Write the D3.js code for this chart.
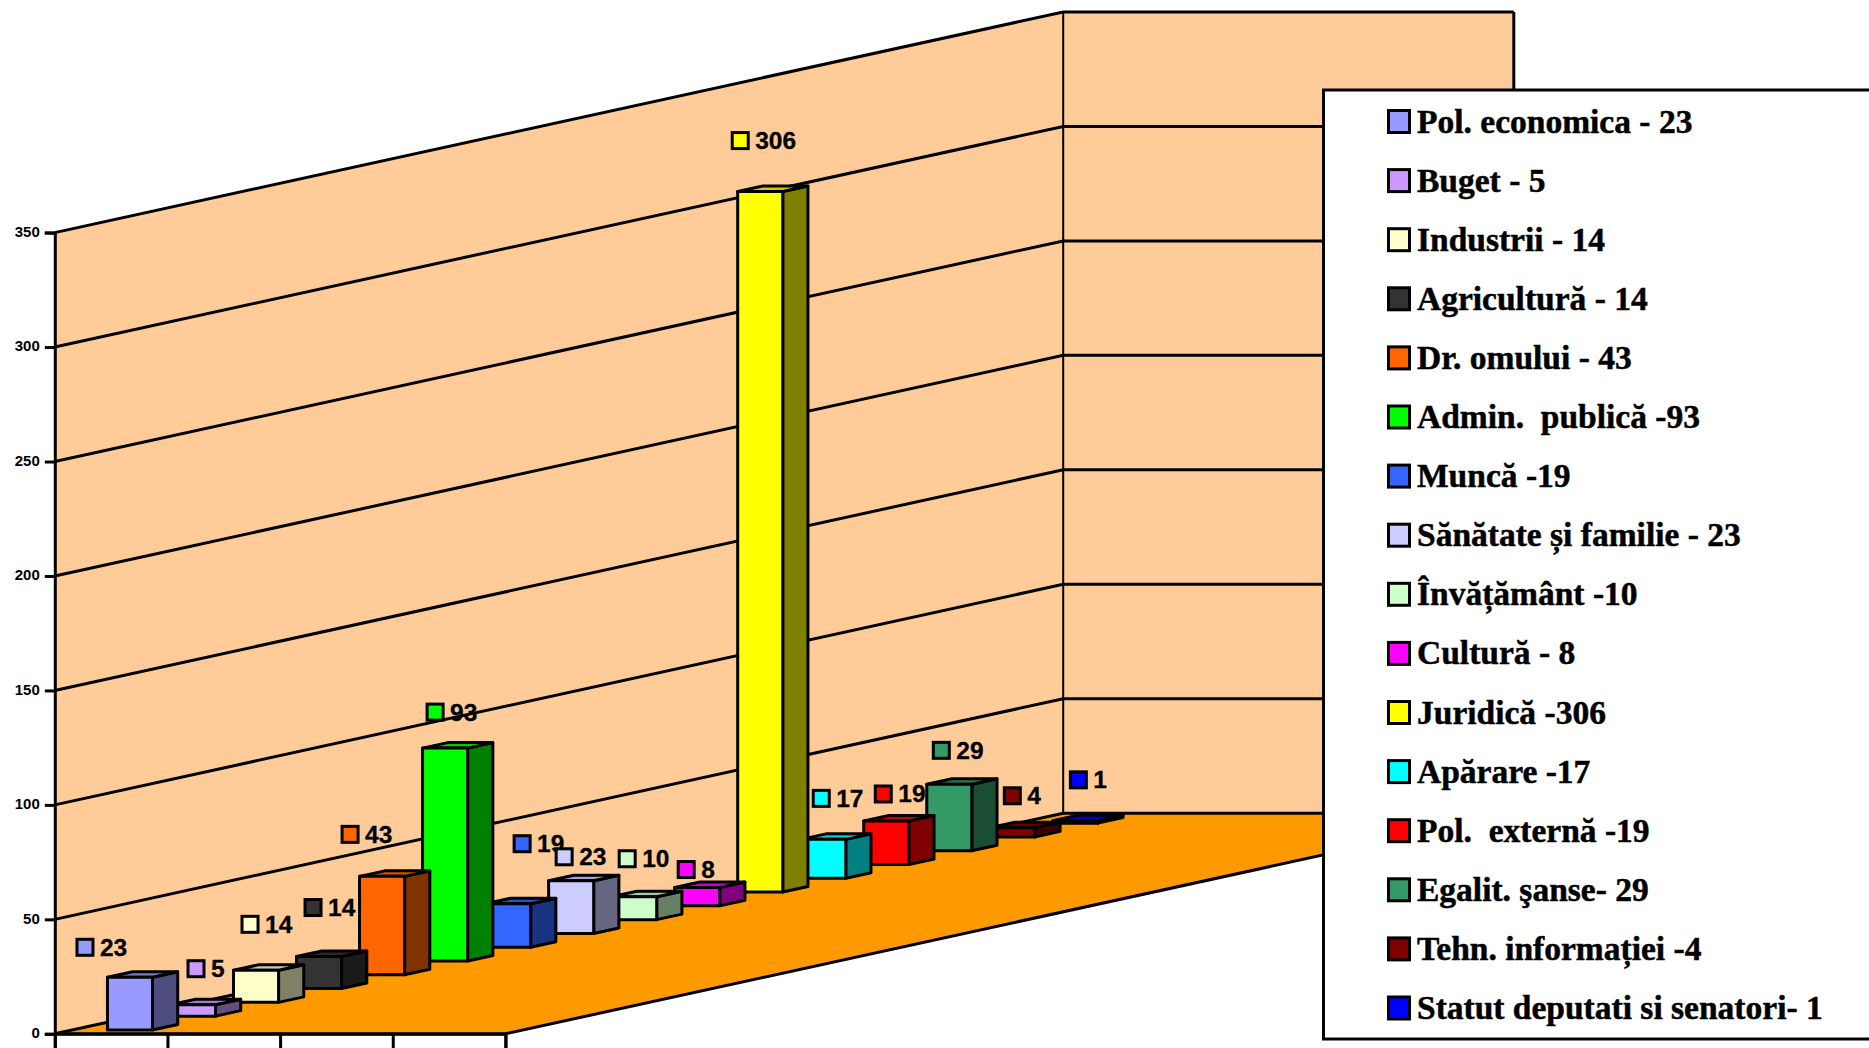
<!DOCTYPE html>
<html>
<head>
<meta charset="utf-8">
<script src="https://cdn.jsdelivr.net/npm/d3@7/dist/d3.min.js"></script>
<style>
html,body{margin:0;padding:0;background:#fff;overflow:hidden}
svg{display:block}
</style>
</head>
<body>
<svg id="chart" width="1869" height="1048"></svg>
<script>
const seriesNames = ["Pol. economica - 23","Buget - 5","Industrii - 14","Agricultură - 14","Dr. omului - 43","Admin.  publică -93","Muncă -19","Sănătate și familie - 23","Învățământ -10","Cultură - 8","Juridică -306","Apărare -17","Pol.  externă -19","Egalit. şanse- 29","Tehn. informației -4","Statut deputati si senatori- 1"];
const seriesValues = [23,5,14,14,43,93,19,23,10,8,306,17,19,29,4,1];
const seriesColors = ["#9999FF","#CC99FF","#FFFFCC","#333333","#FF6600","#00FF00","#3366FF","#CCCCFF","#CCFFCC","#FF00FF","#FFFF00","#00FFFF","#FF0000","#339966","#800000","#0000FF"];
const yTicks = [0,50,100,150,200,250,300,350];
const categorySlots = ["a","b","c","d"];
const labelNudges = [[-45,-30],[3,-36],[-6,-46],[-6,-49],[-32,-42],[-10,-36],[14,-60],[-7,-24],[-7,-38],[-11,-18],[-20,-51],[-2,-41],[-3,-27],[-8,-34],[0,-32],[3,-41]];

const svg = d3.select("#chart");
const X0 = 54.8, X1 = 505.4, Y0 = 1033.8, YTOP = 232.6, DEPTHX = 1008.4, DEPTHY = -220.6;

const y = d3.scaleLinear().domain([0,350]).range([Y0,YTOP]);
const xBand = d3.scaleBand().domain(categorySlots).range([X0,X1]).paddingInner(0.6).paddingOuter(0.3);
const xAxisScale = d3.scaleLinear().domain([0,4]).range([X0,X1]);
const dX = d3.scaleLinear().domain([0,seriesValues.length]).range([0,DEPTHX]);
const dY = d3.scaleLinear().domain([0,seriesValues.length]).range([0,DEPTHY]);

const pt = (px,depth,v)=>[px+dX(depth), y(v)+dY(depth)];
const poly = d3.line();
const N = seriesValues.length;
const LW = 3;
const walls = svg.append("g");

// back wall, side wall, floor
walls.append("path").attr("d",poly([pt(X0,0,0),pt(X0,0,350),pt(X0,N,350),pt(X0,N,0)])+"Z").attr("fill","#FFCC99");
walls.append("path").attr("d",poly([pt(X0,N,0),pt(X0,N,350),pt(X1,N,350),pt(X1,N,0)])+"Z").attr("fill","#FFCC99");
walls.append("path").attr("d",poly([pt(X0,0,0),pt(X1,0,0),pt(X1,N,0),pt(X0,N,0)])+"Z").attr("fill","#FF9900");

// gridlines
yTicks.forEach(t=>{
  walls.append("path").attr("d",poly([pt(X0,0,t),pt(X0,N,t),pt(X1,N,t)]))
    .attr("fill","none").attr("stroke","#000").attr("stroke-width",LW);
});
walls.append("path").attr("d",poly([pt(X0,N,0),pt(X0,N,350)])).attr("stroke","#000").attr("stroke-width",2).attr("fill","none");
walls.append("path").attr("d",poly([pt(X1,N,350),pt(X1,N,0)])).attr("stroke","#000").attr("stroke-width",LW).attr("fill","none");
walls.append("path").attr("d",poly([pt(X0,0,0),pt(X1,0,0),pt(X1,N,0)])).attr("stroke","#000").attr("stroke-width",LW).attr("fill","none");

// axes
const yAxis = d3.axisLeft(y).tickValues(yTicks).tickSize(10).tickPadding(5);
const gy = svg.append("g").attr("transform",`translate(${X0},0)`).call(yAxis);
gy.selectAll("path,line").attr("stroke","#000").attr("stroke-width",LW);
gy.selectAll("text").attr("font-family","'Liberation Sans',Arial,sans-serif").attr("font-weight","bold").attr("font-size",15).attr("fill","#000").attr("y",-1);
const xAxis = d3.axisBottom(xAxisScale).tickValues([0,1,2,3,4]).tickSize(20).tickFormat("");
const gx = svg.append("g").attr("transform",`translate(0,${Y0})`).call(xAxis);
gx.selectAll("path,line").attr("stroke","#000").attr("stroke-width",LW);

// bars, drawn back to front
const bx0 = xBand("a") + 1.2, bx1 = bx0 + xBand.bandwidth();
const order = d3.range(N).reverse();
const shade = (c,k)=>{const r=d3.rgb(c);return d3.rgb(r.r*k,r.g*k,r.b*k).formatHex();};
const bars = svg.append("g").selectAll("g").data(order).join("g");
const d0 = 0.28, d1 = 0.68;
const strokeAttrs = s=>s.attr("stroke","#000").attr("stroke-width",LW).attr("stroke-linejoin","round");
bars.append("path").attr("d",i=>poly([pt(bx1,i+d0,0),pt(bx1,i+d1,0),pt(bx1,i+d1,seriesValues[i]),pt(bx1,i+d0,seriesValues[i])])+"Z")
  .attr("fill",i=>shade(seriesColors[i],0.5)).call(strokeAttrs);
bars.append("path").attr("d",i=>poly([pt(bx0,i+d0,seriesValues[i]),pt(bx1,i+d0,seriesValues[i]),pt(bx1,i+d1,seriesValues[i]),pt(bx0,i+d1,seriesValues[i])])+"Z")
  .attr("fill",i=>shade(seriesColors[i],0.8)).call(strokeAttrs);
bars.append("path").attr("d",i=>poly([pt(bx0,i+d0,0),pt(bx1,i+d0,0),pt(bx1,i+d0,seriesValues[i]),pt(bx0,i+d0,seriesValues[i])])+"Z")
  .attr("fill",i=>seriesColors[i]).call(strokeAttrs);

// data labels
const labels = svg.append("g").selectAll("g").data(d3.range(N)).join("g")
  .attr("transform",i=>{
    const p = pt((bx0+bx1)/2,i+d0,seriesValues[i]);
    return `translate(${p[0]+labelNudges[i][0]},${p[1]+labelNudges[i][1]})`;
  });
labels.append("rect").attr("x",-8).attr("y",-8).attr("width",16).attr("height",16)
  .attr("fill",i=>seriesColors[i]).attr("stroke","#000").attr("stroke-width",LW);
labels.append("text").attr("x",15).attr("y",8.5).text(i=>seriesValues[i])
  .attr("font-family","'Liberation Sans',Arial,sans-serif").attr("font-weight","bold").attr("font-size",24.5).attr("fill","#000")
  .attr("stroke","#000").attr("stroke-width",0.3);

// legend
const LX = 1323.5, LTOP = 90, LBOT = 1039, rowH = 59.1, rowTop = 121.5;
svg.append("rect").attr("x",LX).attr("y",LTOP).attr("width",700).attr("height",LBOT-LTOP)
  .attr("fill","#fff").attr("stroke","#000").attr("stroke-width",LW);
const rows = svg.append("g").selectAll("g").data(d3.range(N)).join("g")
  .attr("transform",i=>`translate(0,${rowTop+i*rowH})`);
rows.append("rect").attr("x",1388.5).attr("y",-11).attr("width",21).attr("height",22)
  .attr("fill",i=>seriesColors[i]).attr("stroke","#000").attr("stroke-width",LW);
rows.append("text").attr("x",1417).attr("y",11).text(i=>seriesNames[i])
  .attr("xml:space","preserve").style("white-space","pre")
  .attr("font-family","'Liberation Serif','Times New Roman',serif").attr("font-weight","bold").attr("font-size",33.5).attr("fill","#000")
  .attr("stroke","#000").attr("stroke-width",0.5);
</script>
</body>
</html>
